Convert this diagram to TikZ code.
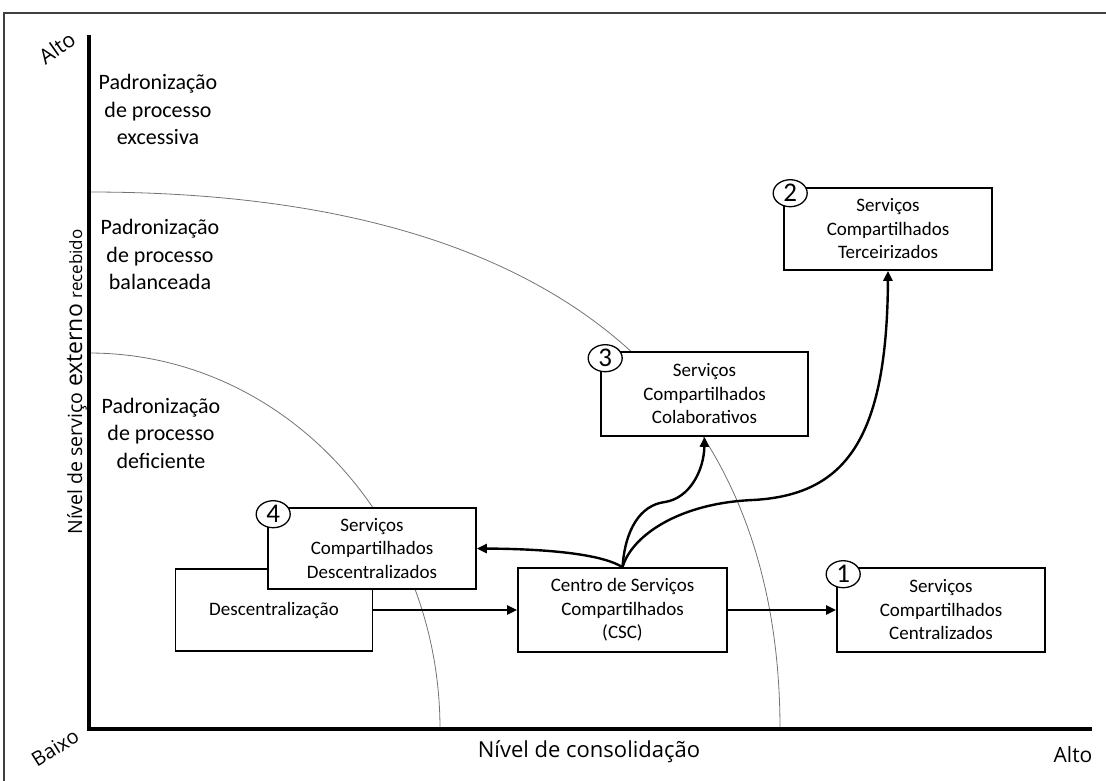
\documentclass[tikz,border=0pt]{standalone}
\usepackage{fontspec}
\setmainfont{Carlito}
\newfontfamily\axfont{Open Sans}
\usetikzlibrary{arrows.meta,calc,shapes.geometric}

\begin{document}
\begin{tikzpicture}[x=1pt,y=-1pt,
  box/.style={draw,line width=1.6pt,fill=white,align=center,inner sep=0pt,
              font=\fontsize{19}{23.5}\selectfont},
  numtag/.style={ellipse,draw,line width=1.3pt,fill=white,minimum width=34pt,
              minimum height=27pt,inner sep=0pt,font=\fontsize{27}{27}\selectfont},
  zone/.style={align=center,font=\fontsize{22}{27.5}\selectfont},
  flow/.style={line width=2.4pt,-{Triangle[length=10pt,width=9pt]}},
  band/.style={line width=0.8pt,black!55},
  axislabel/.style={font=\axfont\fontsize{21}{25}\selectfont}
]
\useasboundingbox (0,0) rectangle (1106,780);

% outer frame
\draw[line width=2pt,black!75] (4,790) -- (4,13) -- (1116,13);

% boundaries between the standardisation zones
\draw[band] (89,192) .. controls (607.5,192) and (780,433) .. (780,729);
\draw[band] (89,353) .. controls (283,353) and (440,521) .. (440,729);

% axes
\coordinate (ytop) at (89,35);
\coordinate (O) at (89,729);
\coordinate (xend) at (1092,729);
\draw[line width=3.5pt] (ytop) -- (O) -- (xend);

% zone labels
\node[zone] (z1) at (158,109.5) {Padronização\\de processo\\excessiva};
\node[zone] (z2) at (160,254.5) {Padronização\\de processo\\balanceada};
\node[zone] (z3) at (161,433) {Padronização\\de processo\\deficiente};

% boxes
\node[box,minimum width=197pt,minimum height=82pt] (desc) at (274,610) {Descentralização};
\node[box,minimum width=208pt,minimum height=81pt] (b4) at (372,548.5) {Serviços\\Compartilhados\\Descentralizados};
\node[box,minimum width=209pt,minimum height=84pt] (csc) at (622.5,610) {Centro de Serviços\\Compartilhados\\(CSC)};
\node[box,minimum width=208pt,minimum height=84pt] (b1) at (941,610) {Serviços\\Compartilhados\\Centralizados};
\node[box,minimum width=207pt,minimum height=84pt] (b3) at (704.5,394) {Serviços\\Compartilhados\\Colaborativos};
\node[box,minimum width=208pt,minimum height=82pt] (b2) at (888,229) {Serviços\\Compartilhados\\Terceirizados};

% numbered tags
\node[numtag] (t1) at ($(b1.north west)+(7,7)$) {1};
\node[numtag] (t2) at ($(b2.north west)+(7,6)$) {2};
\node[numtag] (t3) at ($(b3.north west)+(5,7)$) {3};
\node[numtag] (t4) at ($(b4.north west)+(6,7)$) {4};

% flows
\coordinate (k3) at (665,502);
\coordinate (k2) at (753,500);
\draw[flow] (desc.east) -- (csc.west);
\draw[flow] (csc.east) -- (b1.west);
\draw[flow] (csc.north) .. controls (605,556) and (560,549) .. (b4.east);
\draw[flow] (csc.north) .. controls (625,530) and (640,505) .. (k3)
                        .. controls (690,498) and (704,470) .. (b3.south);
\draw[flow] (csc.north) .. controls (632,535) and (680,503) .. (k2)
                        .. controls (845,495) and (887,440) .. (b2.south);

% axis labels
\node[axislabel,rotate=90,anchor=base] (ylab) at (82,382)
  {{\fontsize{19.5}{24}\selectfont Nível de serviço} {\fontsize{23}{24}\selectfont externo} {\fontsize{17}{24}\selectfont recebido}};
\node[axislabel,font=\axfont\fontsize{22}{26}\selectfont] (xlab) at (589,752) {Nível de consolidação};
\node[axislabel,rotate=35,font=\axfont\fontsize{21}{24}\selectfont] (yhi) at (57,48) {Alto};
\node[axislabel,rotate=32,font=\axfont\fontsize{20}{24}\selectfont] (xlo) at (55,748) {Baixo};
\node[axislabel] (xhi) at (1073,755) {Alto};
\end{tikzpicture}
\end{document}
